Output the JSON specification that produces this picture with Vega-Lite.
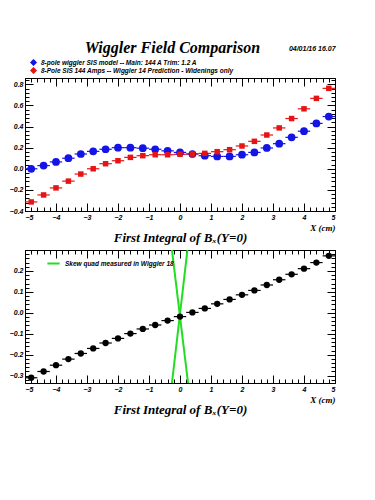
{
  "$schema": "https://vega.github.io/schema/vega-lite/v6.json",
  "padding": {"left": 8, "top": 39, "right": 10, "bottom": 5},
  "background": "white",
  "title": {"text": "Wiggler Field Comparison", "font": "Times New Roman, Liberation Serif, DejaVu Serif, serif", "fontStyle": "italic", "fontWeight": "bold", "fontSize": 16, "anchor": "middle", "color": "black", "offset": 2, "dy": 13},
  "config": {
    "view": {"stroke": "black", "strokeWidth": 1},
    "axis": {"domain": false, "grid": false, "tickColor": "black", "labelFont": "Liberation Sans", "labelFontStyle": "italic", "labelFontWeight": "bold", "labelFontSize": 7, "labelColor": "black", "titleFont": "Times New Roman, Liberation Serif, DejaVu Serif, serif", "titleFontStyle": "italic", "titleFontWeight": "bold", "titleColor": "black"},
    "legend": {"labelFont": "Liberation Sans", "labelFontStyle": "italic", "labelFontWeight": "bold", "labelFontSize": 6.5, "labelColor": "black", "labelLimit": 500}
  },
  "datasets": {
    "top": [
      {"x": -4.8, "y": 0.0, "s": "A", "e": 0.2}, {"x": -4.4, "y": 0.03, "s": "A", "e": 0.2}, {"x": -4.0, "y": 0.065, "s": "A", "e": 0.2}, {"x": -3.6, "y": 0.1, "s": "A", "e": 0.2}, {"x": -3.2, "y": 0.14, "s": "A", "e": 0.2},
      {"x": -2.8, "y": 0.165, "s": "A", "e": 0.2}, {"x": -2.4, "y": 0.185, "s": "A", "e": 0.2}, {"x": -2.0, "y": 0.2, "s": "A", "e": 0.2}, {"x": -1.6, "y": 0.2, "s": "A", "e": 0.2}, {"x": -1.2, "y": 0.195, "s": "A", "e": 0.2},
      {"x": -0.8, "y": 0.185, "s": "A", "e": 0.2}, {"x": -0.4, "y": 0.17, "s": "A", "e": 0.2}, {"x": 0.0, "y": 0.155, "s": "A", "e": 0.2}, {"x": 0.4, "y": 0.14, "s": "A", "e": 0.2}, {"x": 0.8, "y": 0.124, "s": "A", "e": 0.2},
      {"x": 1.2, "y": 0.117, "s": "A", "e": 0.2}, {"x": 1.6, "y": 0.117, "s": "A", "e": 0.2}, {"x": 2.0, "y": 0.133, "s": "A", "e": 0.2}, {"x": 2.4, "y": 0.155, "s": "A", "e": 0.2}, {"x": 2.8, "y": 0.197, "s": "A", "e": 0.2},
      {"x": 3.2, "y": 0.238, "s": "A", "e": 0.2}, {"x": 3.6, "y": 0.298, "s": "A", "e": 0.2}, {"x": 4.0, "y": 0.356, "s": "A", "e": 0.2}, {"x": 4.4, "y": 0.43, "s": "A", "e": 0.2}, {"x": 4.8, "y": 0.495, "s": "A", "e": 0.2},
      {"x": -4.8, "y": -0.314, "s": "B", "e": 0.2}, {"x": -4.4, "y": -0.248, "s": "B", "e": 0.2}, {"x": -4.0, "y": -0.181, "s": "B", "e": 0.2}, {"x": -3.6, "y": -0.117, "s": "B", "e": 0.2}, {"x": -3.2, "y": -0.05, "s": "B", "e": 0.2},
      {"x": -2.8, "y": 0.0, "s": "B", "e": 0.2}, {"x": -2.4, "y": 0.048, "s": "B", "e": 0.2}, {"x": -2.0, "y": 0.076, "s": "B", "e": 0.2}, {"x": -1.6, "y": 0.108, "s": "B", "e": 0.2}, {"x": -1.2, "y": 0.124, "s": "B", "e": 0.2},
      {"x": -0.8, "y": 0.133, "s": "B", "e": 0.2}, {"x": -0.4, "y": 0.133, "s": "B", "e": 0.2}, {"x": 0.0, "y": 0.137, "s": "B", "e": 0.2}, {"x": 0.4, "y": 0.14, "s": "B", "e": 0.2}, {"x": 0.8, "y": 0.146, "s": "B", "e": 0.2},
      {"x": 1.2, "y": 0.162, "s": "B", "e": 0.2}, {"x": 1.6, "y": 0.181, "s": "B", "e": 0.2}, {"x": 2.0, "y": 0.216, "s": "B", "e": 0.2}, {"x": 2.4, "y": 0.26, "s": "B", "e": 0.2}, {"x": 2.8, "y": 0.32, "s": "B", "e": 0.2},
      {"x": 3.2, "y": 0.387, "s": "B", "e": 0.2}, {"x": 3.6, "y": 0.476, "s": "B", "e": 0.2}, {"x": 4.0, "y": 0.568, "s": "B", "e": 0.2}, {"x": 4.4, "y": 0.667, "s": "B", "e": 0.2}, {"x": 4.8, "y": 0.762, "s": "B", "e": 0.2}
    ],
    "bot": [
      {"x": -4.8, "y": -0.31, "e": 0.2}, {"x": -4.4, "y": -0.28, "e": 0.2}, {"x": -4.0, "y": -0.25, "e": 0.2}, {"x": -3.6, "y": -0.221, "e": 0.2}, {"x": -3.2, "y": -0.194, "e": 0.2},
      {"x": -2.8, "y": -0.17, "e": 0.2}, {"x": -2.4, "y": -0.144, "e": 0.2}, {"x": -2.0, "y": -0.122, "e": 0.2}, {"x": -1.6, "y": -0.099, "e": 0.2}, {"x": -1.2, "y": -0.077, "e": 0.2},
      {"x": -0.8, "y": -0.058, "e": 0.2}, {"x": -0.4, "y": -0.037, "e": 0.2}, {"x": 0.0, "y": -0.018, "e": 0.2}, {"x": 0.4, "y": 0.002, "e": 0.2}, {"x": 0.8, "y": 0.021, "e": 0.2},
      {"x": 1.2, "y": 0.043, "e": 0.2}, {"x": 1.6, "y": 0.064, "e": 0.2}, {"x": 2.0, "y": 0.086, "e": 0.2}, {"x": 2.4, "y": 0.107, "e": 0.2}, {"x": 2.8, "y": 0.133, "e": 0.2},
      {"x": 3.2, "y": 0.158, "e": 0.2}, {"x": 3.6, "y": 0.184, "e": 0.2}, {"x": 4.0, "y": 0.211, "e": 0.2}, {"x": 4.4, "y": 0.24, "e": 0.2}, {"x": 4.8, "y": 0.272, "e": 0.2}
    ],
    "green": [
      {"x": -0.26, "y": 0.3, "g": "L1"}, {"x": 0.26, "y": -0.335, "g": "L1"},
      {"x": 0.24, "y": 0.3, "g": "L2"}, {"x": -0.26, "y": -0.335, "g": "L2"}
    ]
  },
  "spacing": 4,
  "resolve": {"scale": {"color": "independent"}, "legend": {"color": "independent"}},
  "vconcat": [
    {
      "width": 310, "height": 133,
      "title": {"text": "04/01/16  16.07", "orient": "top", "anchor": "end", "font": "Liberation Sans", "fontStyle": "italic", "fontWeight": "bold", "fontSize": 7, "color": "black", "offset": 7},
      "data": {"name": "top"},
      "resolve": {"axis": {"x": "independent", "y": "independent"}},
      "layer": [
        {
          "mark": {"type": "errorbar", "thickness": 1.2},
          "encoding": {
            "x": {"field": "x", "type": "quantitative", "scale": {"domain": [-5, 5], "nice": false, "zero": false},
                  "axis": {"orient": "bottom", "values": [-5, -4, -3, -2, -1, 0, 1, 2, 3, 4, 5], "tickSize": -8, "labelPadding": 10, "title": "X (cm)", "titleFontSize": 9, "titleAnchor": "end", "titleAlign": "right", "titlePadding": 3}},
            "xError": {"field": "e"},
            "y": {"field": "y", "type": "quantitative", "scale": {"domain": [-0.4, 0.86], "nice": false, "zero": false},
                  "axis": {"orient": "left", "values": [-0.4, -0.2, 0, 0.2, 0.4, 0.6, 0.8], "tickSize": -8, "labelPadding": 10, "title": null}},
            "color": {"field": "s", "type": "nominal", "scale": {"domain": ["A", "B"], "range": ["#1414e6", "#e61414"]},
                      "legend": {"orient": "none", "legendX": 5, "legendY": -19, "title": null, "symbolType": "diamond", "symbolSize": 25, "rowPadding": 1, "clipHeight": 7, "labelExpr": "datum.label == 'A' ? '8-pole wiggler SIS model --  Main: 144 A    Trim: 1.2 A' : '8-Pole SIS 144 Amps -- Wiggler 14 Prediction - Widenings only'"}}
          }
        },
        {
          "mark": {"type": "point", "filled": true, "opacity": 1},
          "encoding": {
            "x": {"field": "x", "type": "quantitative", "scale": {"domain": [-5, 5], "nice": false, "zero": false},
                  "axis": {"orient": "bottom", "values": [-5, -4.8, -4.6, -4.4, -4.2, -4, -3.8, -3.6, -3.4, -3.2, -3, -2.8, -2.6, -2.4, -2.2, -2, -1.8, -1.6, -1.4, -1.2, -1, -0.8, -0.6, -0.4, -0.2, 0, 0.2, 0.4, 0.6, 0.8, 1, 1.2, 1.4, 1.6, 1.8, 2, 2.2, 2.4, 2.6, 2.8, 3, 3.2, 3.4, 3.6, 3.8, 4, 4.2, 4.4, 4.6, 4.8, 5], "tickSize": -4, "labels": false, "title": "First Integral of B\u2093(Y=0)", "titleFontSize": 13, "titlePadding": 20}},
            "y": {"field": "y", "type": "quantitative", "scale": {"domain": [-0.4, 0.86], "nice": false, "zero": false},
                  "axis": {"orient": "left", "values": [-0.4, -0.36, -0.32, -0.28, -0.24, -0.2, -0.16, -0.12, -0.08, -0.04, 0, 0.04, 0.08, 0.12, 0.16, 0.2, 0.24, 0.28, 0.32, 0.36, 0.4, 0.44, 0.48, 0.52, 0.56, 0.6, 0.64, 0.68, 0.72, 0.76, 0.8, 0.84], "tickSize": -4, "labels": false, "title": null}},
            "color": {"field": "s", "type": "nominal", "scale": {"domain": ["A", "B"], "range": ["#1414e6", "#e61414"]},
                      "legend": {"orient": "none", "legendX": 5, "legendY": -19, "title": null, "symbolType": "diamond", "symbolSize": 25, "rowPadding": 1, "clipHeight": 7, "labelExpr": "datum.label == 'A' ? '8-pole wiggler SIS model --  Main: 144 A    Trim: 1.2 A' : '8-Pole SIS 144 Amps -- Wiggler 14 Prediction - Widenings only'"}},
            "shape": {"field": "s", "type": "nominal", "scale": {"domain": ["A", "B"], "range": ["circle", "square"]}, "legend": null},
            "size": {"field": "s", "type": "nominal", "scale": {"domain": ["A", "B"], "range": [60, 30]}, "legend": null}
          }
        },
        {
          "mark": {"type": "point", "opacity": 0},
          "encoding": {
            "x": {"field": "x", "type": "quantitative", "scale": {"domain": [-5, 5], "nice": false, "zero": false},
                  "axis": {"orient": "top", "values": [-5, -4, -3, -2, -1, 0, 1, 2, 3, 4, 5], "tickSize": -8, "labels": false, "title": null}},
            "y": {"field": "y", "type": "quantitative", "scale": {"domain": [-0.4, 0.86], "nice": false, "zero": false},
                  "axis": {"orient": "right", "values": [-0.4, -0.2, 0, 0.2, 0.4, 0.6, 0.8], "tickSize": -8, "labels": false, "title": null}}
          }
        },
        {
          "mark": {"type": "point", "opacity": 0},
          "encoding": {
            "x": {"field": "x", "type": "quantitative", "scale": {"domain": [-5, 5], "nice": false, "zero": false},
                  "axis": {"orient": "top", "values": [-5, -4.8, -4.6, -4.4, -4.2, -4, -3.8, -3.6, -3.4, -3.2, -3, -2.8, -2.6, -2.4, -2.2, -2, -1.8, -1.6, -1.4, -1.2, -1, -0.8, -0.6, -0.4, -0.2, 0, 0.2, 0.4, 0.6, 0.8, 1, 1.2, 1.4, 1.6, 1.8, 2, 2.2, 2.4, 2.6, 2.8, 3, 3.2, 3.4, 3.6, 3.8, 4, 4.2, 4.4, 4.6, 4.8, 5], "tickSize": -4, "labels": false, "title": null}},
            "y": {"field": "y", "type": "quantitative", "scale": {"domain": [-0.4, 0.86], "nice": false, "zero": false},
                  "axis": {"orient": "right", "values": [-0.4, -0.36, -0.32, -0.28, -0.24, -0.2, -0.16, -0.12, -0.08, -0.04, 0, 0.04, 0.08, 0.12, 0.16, 0.2, 0.24, 0.28, 0.32, 0.36, 0.4, 0.44, 0.48, 0.52, 0.56, 0.6, 0.64, 0.68, 0.72, 0.76, 0.8, 0.84], "tickSize": -4, "labels": false, "title": null}}
          }
        }
      ]
    },
    {
      "width": 310, "height": 133,
      "resolve": {"axis": {"x": "independent", "y": "independent"}},
      "layer": [
        {
          "data": {"name": "green"},
          "mark": {"type": "line", "strokeWidth": 2, "clip": true},
          "encoding": {
            "x": {"field": "x", "type": "quantitative", "scale": {"domain": [-5, 5], "nice": false, "zero": false}, "axis": null},
            "y": {"field": "y", "type": "quantitative", "scale": {"domain": [-0.335, 0.3], "nice": false, "zero": false}, "axis": null},
            "detail": {"field": "g"},
            "color": {"datum": "Skew quad measured in Wiggler 18", "scale": {"range": ["#22dd22"]},
                      "legend": {"orient": "none", "legendX": 21, "legendY": 6, "title": null, "symbolType": "stroke", "symbolStrokeWidth": 2, "symbolSize": 150}}
          }
        },
        {
          "data": {"name": "bot"},
          "mark": {"type": "errorbar", "thickness": 1.2, "color": "black"},
          "encoding": {
            "x": {"field": "x", "type": "quantitative", "scale": {"domain": [-5, 5], "nice": false, "zero": false},
                  "axis": {"orient": "bottom", "values": [-5, -4, -3, -2, -1, 0, 1, 2, 3, 4, 5], "tickSize": -8, "labelPadding": 10, "title": "X (cm)", "titleFontSize": 9, "titleAnchor": "end", "titleAlign": "right", "titlePadding": 3}},
            "xError": {"field": "e"},
            "y": {"field": "y", "type": "quantitative", "scale": {"domain": [-0.335, 0.3], "nice": false, "zero": false},
                  "axis": {"orient": "left", "values": [-0.3, -0.2, -0.1, 0, 0.1, 0.2], "tickSize": -8, "labelPadding": 10, "title": null}}
          }
        },
        {
          "data": {"name": "bot"},
          "mark": {"type": "point", "filled": true, "opacity": 1, "color": "black", "size": 40},
          "encoding": {
            "x": {"field": "x", "type": "quantitative", "scale": {"domain": [-5, 5], "nice": false, "zero": false},
                  "axis": {"orient": "bottom", "values": [-5, -4.8, -4.6, -4.4, -4.2, -4, -3.8, -3.6, -3.4, -3.2, -3, -2.8, -2.6, -2.4, -2.2, -2, -1.8, -1.6, -1.4, -1.2, -1, -0.8, -0.6, -0.4, -0.2, 0, 0.2, 0.4, 0.6, 0.8, 1, 1.2, 1.4, 1.6, 1.8, 2, 2.2, 2.4, 2.6, 2.8, 3, 3.2, 3.4, 3.6, 3.8, 4, 4.2, 4.4, 4.6, 4.8, 5], "tickSize": -4, "labels": false, "title": "First Integral of B\u2093(Y=0)", "titleFontSize": 13, "titlePadding": 20}},
            "y": {"field": "y", "type": "quantitative", "scale": {"domain": [-0.335, 0.3], "nice": false, "zero": false},
                  "axis": {"orient": "left", "values": [-0.32, -0.3, -0.28, -0.26, -0.24, -0.22, -0.2, -0.18, -0.16, -0.14, -0.12, -0.1, -0.08, -0.06, -0.04, -0.02, 0, 0.02, 0.04, 0.06, 0.08, 0.1, 0.12, 0.14, 0.16, 0.18, 0.2, 0.22, 0.24, 0.26, 0.28, 0.3], "tickSize": -4, "labels": false, "title": null}}
          }
        },
        {
          "data": {"name": "bot"},
          "mark": {"type": "point", "opacity": 0},
          "encoding": {
            "x": {"field": "x", "type": "quantitative", "scale": {"domain": [-5, 5], "nice": false, "zero": false},
                  "axis": {"orient": "top", "values": [-5, -4, -3, -2, -1, 0, 1, 2, 3, 4, 5], "tickSize": -8, "labels": false, "title": null}},
            "y": {"field": "y", "type": "quantitative", "scale": {"domain": [-0.335, 0.3], "nice": false, "zero": false},
                  "axis": {"orient": "right", "values": [-0.3, -0.2, -0.1, 0, 0.1, 0.2], "tickSize": -8, "labels": false, "title": null}}
          }
        },
        {
          "data": {"name": "bot"},
          "mark": {"type": "point", "opacity": 0},
          "encoding": {
            "x": {"field": "x", "type": "quantitative", "scale": {"domain": [-5, 5], "nice": false, "zero": false},
                  "axis": {"orient": "top", "values": [-5, -4.8, -4.6, -4.4, -4.2, -4, -3.8, -3.6, -3.4, -3.2, -3, -2.8, -2.6, -2.4, -2.2, -2, -1.8, -1.6, -1.4, -1.2, -1, -0.8, -0.6, -0.4, -0.2, 0, 0.2, 0.4, 0.6, 0.8, 1, 1.2, 1.4, 1.6, 1.8, 2, 2.2, 2.4, 2.6, 2.8, 3, 3.2, 3.4, 3.6, 3.8, 4, 4.2, 4.4, 4.6, 4.8, 5], "tickSize": -4, "labels": false, "title": null}},
            "y": {"field": "y", "type": "quantitative", "scale": {"domain": [-0.335, 0.3], "nice": false, "zero": false},
                  "axis": {"orient": "right", "values": [-0.32, -0.3, -0.28, -0.26, -0.24, -0.22, -0.2, -0.18, -0.16, -0.14, -0.12, -0.1, -0.08, -0.06, -0.04, -0.02, 0, 0.02, 0.04, 0.06, 0.08, 0.1, 0.12, 0.14, 0.16, 0.18, 0.2, 0.22, 0.24, 0.26, 0.28, 0.3], "tickSize": -4, "labels": false, "title": null}}
          }
        }
      ]
    }
  ]
}
